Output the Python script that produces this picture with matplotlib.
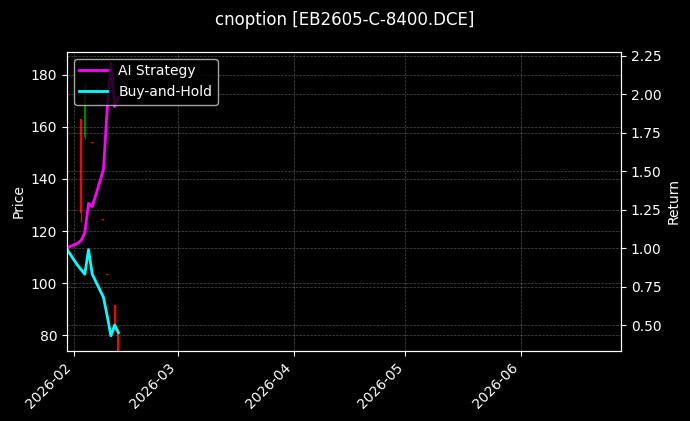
import matplotlib
matplotlib.use("Agg")
import matplotlib.pyplot as plt
import matplotlib.dates as mdates
import pandas as pd

plt.style.use("dark_background")

# candle data (price axis)
candle_dates = pd.to_datetime(["2026-02-03", "2026-02-04", "2026-02-06", "2026-02-09",
                               "2026-02-10", "2026-02-12", "2026-02-13"])
opens = [163.0, 156.0, 154.4, 124.6, 103.6, 91.5, 82.2]
highs = [163.0, 177.5, 154.4, 124.6, 103.6, 91.5, 82.2]
lows = [123.5, 155.5, 154.0, 124.2, 103.2, 81.7, 70.0]
closes = [127.0, 176.0, 154.0, 124.2, 103.2, 81.7, 70.0]

# return curves
dates = pd.to_datetime(["2026-01-30", "2026-02-02", "2026-02-03", "2026-02-04", "2026-02-05",
                        "2026-02-06", "2026-02-09", "2026-02-10", "2026-02-11", "2026-02-12",
                        "2026-02-13"])
ai_strategy = [1.00, 1.03, 1.05, 1.10, 1.29, 1.27, 1.51, 1.90, 2.20, 1.92, 1.98]
buy_hold = [1.00, 0.89, 0.86, 0.83, 0.99, 0.83, 0.68, 0.56, 0.43, 0.50, 0.45]

fig, ax = plt.subplots(figsize=(6.9, 4.21), dpi=100)
fig.subplots_adjust(left=0.097, right=0.9, bottom=0.167, top=0.877)

x = mdates.date2num(candle_dates)
for xi, o, h, l, c in zip(x, opens, highs, lows, closes):
    col = "green" if c >= o else "red"
    ax.vlines(xi, l, h, color=col, linewidth=1)
    ax.bar(xi, max(abs(c - o), 0.3), bottom=min(o, c), width=0.55, color=col, linewidth=0)

ax.set_ylabel("Price")
ax.set_ylim(74.0, 188.9)
ax.grid(True, linestyle="--", linewidth=0.5, alpha=0.3)

ax2 = ax.twinx()
ax2.plot(dates, ai_strategy, color="magenta", linewidth=2, label="AI Strategy")
ax2.plot(dates, buy_hold, color="cyan", linewidth=2, label="Buy-and-Hold")
ax2.set_ylabel("Return")
ax2.set_ylim(0.333, 2.276)
ax2.grid(True, linestyle="--", linewidth=0.5, alpha=0.3)
ax2.legend(loc="upper left")

ax.set_xlim(mdates.date2num(pd.Timestamp("2026-01-30 05:00")),
            mdates.date2num(pd.Timestamp("2026-06-27 19:00")))
ax.xaxis.set_major_locator(mdates.MonthLocator())
ax.xaxis.set_major_formatter(mdates.DateFormatter("%Y-%m"))
plt.setp(ax.get_xticklabels(), rotation=45, ha="right")

fig.suptitle("cnoption [EB2605-C-8400.DCE]", y=0.975)
fig.savefig("out.png", dpi=100)
